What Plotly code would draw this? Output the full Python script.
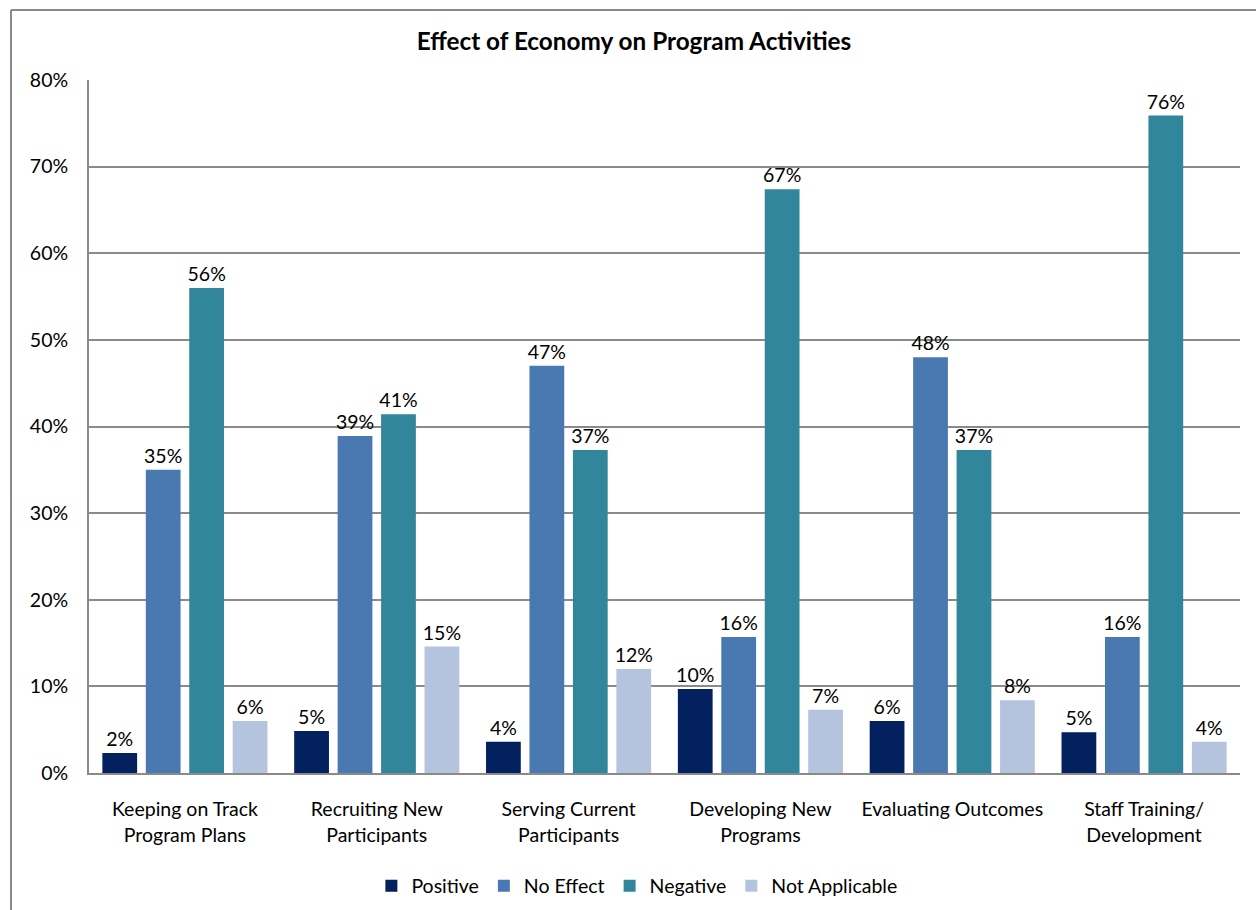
import plotly.graph_objects as go

categories = ["Keeping on Track<br>Program Plans", "Recruiting New<br>Participants",
              "Serving Current<br>Participants", "Developing New<br>Programs",
              "Evaluating Outcomes", "Staff Training/<br>Development"]
positive = [0.023, 0.0485, 0.036, 0.097, 0.060, 0.047]
no_effect = [0.350, 0.389, 0.470, 0.157, 0.480, 0.157]
negative = [0.560, 0.414, 0.373, 0.674, 0.373, 0.759]
not_applicable = [0.060, 0.146, 0.120, 0.073, 0.084, 0.036]

series = [
    ("Positive", positive, "#03215F"),
    ("No Effect", no_effect, "#4A78B0"),
    ("Negative", negative, "#31869B"),
    ("Not Applicable", not_applicable, "#B5C4DE"),
]

FONT = "Lato, Carlito, Calibri, sans-serif"
FS = 19.5
fig = go.Figure()
for name, vals, col in series:
    fig.add_trace(go.Bar(
        x=categories, y=vals, name=name,
        marker=dict(color=col, line=dict(width=0)),
        texttemplate="%{y:.0%}", textposition="outside", cliponaxis=False,
        constraintext="none",
        textfont=dict(size=FS, color="#000000", family=FONT),
    ))

GRID = "#8A8A8A"
px_l, px_r, px_t, px_b = 89, 1240, 80, 773
W, H = 1256, 910
pw, ph = px_r - px_l, px_b - px_t

def pxx(x):
    return (x - px_l) / pw

def pxy(y):
    return (px_b - y) / ph

fig.update_layout(
    width=W, height=H,
    margin=dict(l=px_l, r=W - px_r, t=px_t, b=H - px_b, autoexpand=False),
    paper_bgcolor="white", plot_bgcolor="white",
    font=dict(family=FONT, size=FS, color="#000000"),
    barmode="group", bargap=0.094, bargroupgap=0.2,
    title=dict(text="<b>Effect of Economy on Program Activities</b>",
               x=634 / W, xref="container", xanchor="center",
               y=1 - 41 / H, yref="container", yanchor="middle",
               font=dict(size=24.3, family=FONT, color="#000000")),
    showlegend=True,
    legend=dict(orientation="h", x=0.476, xanchor="center", y=pxy(886), yanchor="middle",
                font=dict(size=FS, family=FONT), traceorder="normal",
                itemwidth=30, entrywidth=0),
    xaxis=dict(showgrid=False, showline=True, linecolor=GRID, linewidth=2,
               ticks="", tickfont=dict(size=FS, family=FONT), ticklabelstandoff=18),
    yaxis=dict(range=[0, 0.8], dtick=0.1, tickformat=".0%", showgrid=True,
               gridcolor=GRID, gridwidth=2, showline=True, linecolor=GRID, linewidth=2,
               zeroline=False, ticks="", tickfont=dict(size=FS, family=FONT),
               ticklabelstandoff=15, mirror=False),
    shapes=[
        dict(type="line", xref="paper", yref="paper", x0=pxx(11), x1=pxx(11),
             y0=pxy(920), y1=pxy(10), line=dict(color=GRID, width=2)),
        dict(type="line", xref="paper", yref="paper", x0=pxx(11), x1=pxx(1270),
             y0=pxy(10), y1=pxy(10), line=dict(color=GRID, width=2)),
    ],
)

fig.write_html("out.html")
